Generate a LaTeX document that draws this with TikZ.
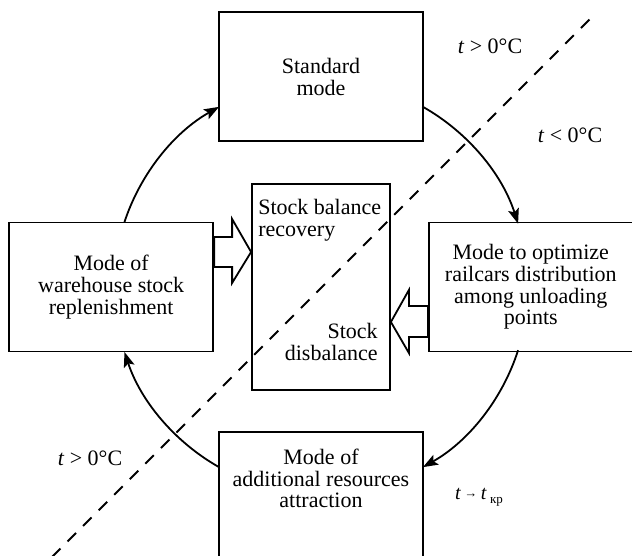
\documentclass[tikz,border=0pt]{standalone}
\usepackage{fontspec}
\setmainfont{Liberation Serif}
\usetikzlibrary{positioning}
\usetikzlibrary{calc}
\usetikzlibrary{arrows.meta}
\tikzstyle{block} = [draw, rectangle, line width=1.8pt, align=center, inner sep=0pt, minimum width=204pt, minimum height=129pt]
\tikzstyle{core} = [draw, rectangle, line width=1.8pt, inner sep=0pt, minimum width=138pt, minimum height=206pt]
\tikzstyle{hollow} = [draw, fill=white, line width=1.8pt, line join=miter]
\tikzstyle{cycarrow} = [line width=1.8pt, -{Stealth[length=15pt,width=11pt,inset=3pt]}]
\tikzstyle{temp} = [inner sep=0pt, anchor=base]

\begin{document}
\begin{tikzpicture}[x=1pt,y=-1pt,node distance=40pt and 37pt,font=\fontsize{22}{21.7}\selectfont]
    \useasboundingbox (0,0) rectangle (632,556);
    \clip (0,0) rectangle (632,556);
    \coordinate (c) at (321,287);
    \node [core] (stock) at (c) {};
    \node [block, above=41pt of stock] (standard) {Standard\\mode};
    \node [block, left=of stock] (warehouse) {Mode of\\warehouse stock\\replenishment};
    \node [block, right=of stock] (railcars) {Mode to optimize\\railcars distribution\\among unloading\\points};
    \node [block, below=of stock] (resources) {Mode of\\additional resources\\attraction\\[14pt]};
    \node [anchor=north west, align=left, inner sep=0pt] at ($(stock.north west)+(7,16)$) {Stock balance\\recovery};
    \node [anchor=south east, align=right, inner sep=0pt] at ($(stock.south east)+(-13,-30)$) {Stock\\disbalance};

    % temperature border
    \coordinate (d1) at (52,557);
    \coordinate (d2) at (591,18);
    \draw [line width=1.8pt, dash pattern=on 12pt off 10pt] (d1) -- (d2);

    % cycle of modes
    \draw [cycarrow] ($(c)+(-161.8:207)$) arc [start angle=-161.8, end angle=-119.5, radius=207];
    \draw [cycarrow] ($(c)+(-60.7:207)$) arc [start angle=-60.7, end angle=-17.8, radius=207];
    \draw [cycarrow] ($(c)+(17.8:207)$) arc [start angle=17.8, end angle=60.5, radius=207];
    \draw [cycarrow] ($(c)+(119.5:207)$) arc [start angle=119.5, end angle=161.7, radius=207];

    % wide arrows into the stock
    \draw [hollow] (stock.west |- 0,252) -- ++(-19,-33) -- ++(0,18) -- (warehouse.east |- 0,237) -- (warehouse.east |- 0,267) -- ++(18,0) -- ++(0,16) -- cycle;
    \draw [hollow] (stock.east |- 0,322) -- ++(18,-32) -- ++(0,16) -- (railcars.west |- 0,306) -- (railcars.west |- 0,337) -- ++(-19,0) -- ++(0,16) -- cycle;

    \node [temp] (warm1) at (490,54) {\textit{t} > 0°C};
    \node [temp] (cold) at (570,143) {\textit{t} < 0°C};
    \node [temp] (warm2) at (90,465) {\textit{t} > 0°C};
    \node [temp, anchor=base west, font=\fontsize{20}{20}\selectfont] (crit) at (455,499) {\textit{t}\,\raisebox{2pt}{\fontsize{13}{13}\selectfont→}\,\textit{t}\,\raisebox{-4pt}{\fontsize{13}{13}\selectfont кр}};
\end{tikzpicture}
\end{document}
